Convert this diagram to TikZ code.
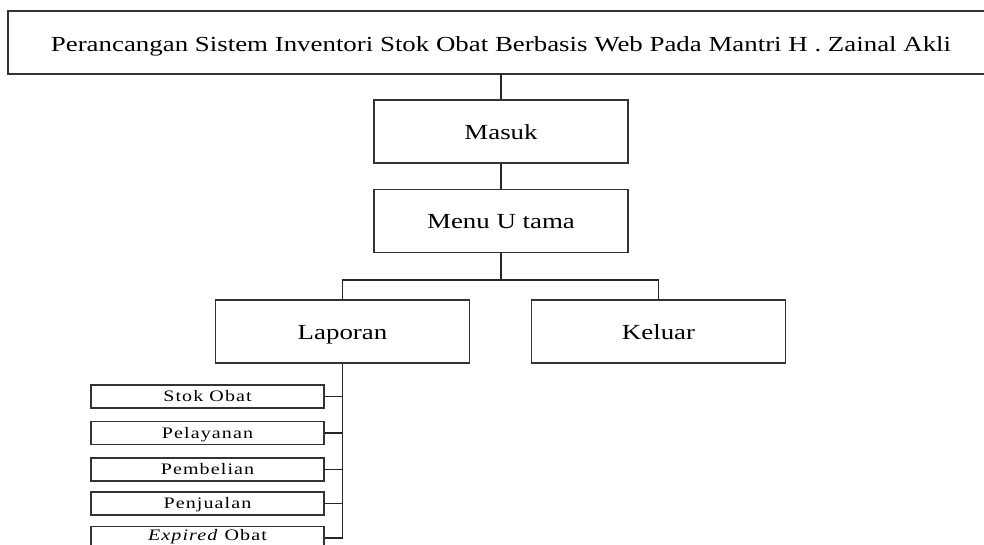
\documentclass[tikz,border=0pt]{standalone}
\usepackage{fontspec}
\setmainfont{Liberation Serif}[FakeStretch=1.25]
\tikzset{
  kotak/.style={draw=black!80, line width=1.3pt, align=center, inner sep=0pt},
  kotakbesar/.style={kotak, minimum width=254pt, minimum height=63pt, text height=20pt, text depth=5pt, font=\fontsize{21.5}{24}\selectfont},
  kotakkecil/.style={kotak, minimum width=233pt, minimum height=23pt, text height=13pt, text depth=2.4pt, font=\fontsize{16}{18}\selectfont\addfontfeatures{LetterSpace=7}},
  garis/.style={draw=black!85, line width=1.3pt}
}
\begin{document}
\begin{tikzpicture}[x=1pt,y=-1pt]
        \useasboundingbox (0,0) rectangle (984,544);
        \clip (0,0) rectangle (984,544);

        % Judul
        \node[kotak, minimum width=986pt, minimum height=63pt, text height=22pt, text depth=4pt, font=\fontsize{21.5}{24}\selectfont] (judul) at (501,42.5)
          {Perancangan Sistem Inventori Stok Obat Berbasis Web Pada Mantri H . Zainal Akli};

        % Menu
        \node[kotakbesar] (masuk) at (501,131.5) {Masuk};
        \node[kotakbesar] (utama) at (501,221) {Menu U tama};
        \node[kotakbesar] (laporan) at (342.5,331.5) {Laporan};
        \node[kotakbesar] (keluar) at (658.5,331.5) {Keluar};
        \coordinate (cabang) at (501,280);

        % Sub menu laporan
        \node[kotakkecil] (stok) at (207.5,396.5) {Stok Obat};
        \node[kotakkecil] (pelayanan) at (207.5,433) {Pelayanan};
        \node[kotakkecil] (pembelian) at (207.5,469.5) {Pembelian};
        \node[kotakkecil] (penjualan) at (207.5,503.5) {Penjualan};
        \node[kotakkecil, text depth=9pt] (expired) at (207.5,538) {\textit{Expired} Obat};

        % Garis
        \draw[garis] (judul) -- (masuk);
        \draw[garis] (masuk) -- (utama);
        \draw[garis] (utama) -- (cabang) -| (laporan);
        \draw[garis] (cabang) -| (keluar);
        \draw[garis] (laporan.south) -- (laporan.south |- expired.east);
        \foreach \s in {stok,pelayanan,pembelian,penjualan,expired}
          \draw[garis] (\s.east) -- (\s.east -| laporan.south);
    \end{tikzpicture}
\end{document}
